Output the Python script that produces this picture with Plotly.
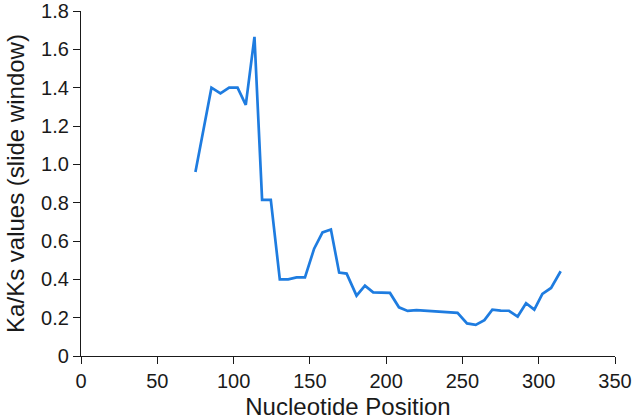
import plotly.graph_objects as go

positions = [75, 80, 85.5, 91.4, 97.1, 102.6, 108, 113.7, 118.7, 124.4, 130.3, 135.8, 141.3, 146.8,
             152.8, 158.3, 163.8, 169.2, 174.1, 180.6, 186.1, 191.5, 197, 202.5, 208.4, 214.1, 219.9,
             225.3, 231, 236.4, 241.9, 246.8, 253, 258.7, 264.4, 269.6, 275.1, 280.5, 286.2, 291.7,
             297.1, 302.4, 308.1, 314.4]
kaks = [0.96, 1.17, 1.40, 1.37, 1.40, 1.40, 1.31, 1.665, 0.815, 0.815, 0.40, 0.40, 0.41, 0.41,
        0.56, 0.645, 0.66, 0.435, 0.43, 0.315, 0.367, 0.332, 0.329, 0.329, 0.254, 0.235, 0.239,
        0.237, 0.232, 0.23, 0.228, 0.225, 0.17, 0.162, 0.187, 0.242, 0.237, 0.236, 0.206, 0.275,
        0.242, 0.324, 0.355, 0.442]

x_ticks = [0, 50, 100, 150, 200, 250, 300, 350]
y_ticks = [0, 0.2, 0.4, 0.6, 0.8, 1.0, 1.2, 1.4, 1.6, 1.8]
y_ticklabels = ["0", "0.2", "0.4", "0.6", "0.8", "1.0", "1.2", "1.4", "1.6", "1.8"]

fig = go.Figure()
fig.add_trace(go.Scatter(x=positions, y=kaks, mode="lines",
                         line=dict(color="#1e7ce0", width=2.7), showlegend=False))

font = "Liberation Sans, Arial, sans-serif"
fig.update_layout(
    width=633, height=420,
    margin=dict(l=81, r=18, t=11, b=64, autoexpand=False),
    paper_bgcolor="white", plot_bgcolor="white",
    font=dict(family=font, color="#1a1a1a"),
    xaxis=dict(range=[0, 350], tickvals=x_ticks, showgrid=False, zeroline=False,
               showline=True, linecolor="#1a1a1a", linewidth=1.2,
               ticks="outside", ticklen=7, tickwidth=1.2, tickcolor="#1a1a1a",
               tickfont=dict(size=20), automargin=False,
               title=dict(text="Nucleotide Position", font=dict(size=24), standoff=7)),
    yaxis=dict(range=[0, 1.8], tickvals=y_ticks, ticktext=y_ticklabels, showgrid=False,
               zeroline=False, showline=True, linecolor="#1a1a1a", linewidth=1.2,
               ticks="outside", ticklen=7, tickwidth=1.2, tickcolor="#1a1a1a",
               tickfont=dict(size=20), automargin=False,
               title=dict(text="Ka/Ks values (slide window)", font=dict(size=24), standoff=9)),
)

fig.write_html("out.html", config={"displayModeBar": False},
               post_script="document.body.style.margin='0';")
